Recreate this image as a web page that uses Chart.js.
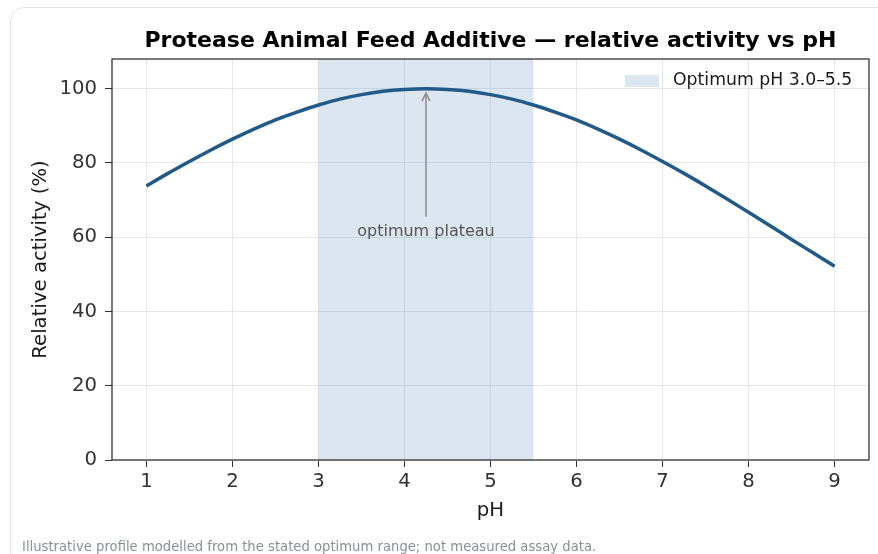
<!DOCTYPE html>
<html>
<head>
<meta charset="utf-8">
<script src="https://cdn.jsdelivr.net/npm/chart.js@4.4.1/dist/chart.umd.min.js"></script>
<style>
html, body { margin: 0; padding: 0; background: #fff; overflow: hidden; }
body { width: 878px; height: 554px; position: relative; font-family: "DejaVu Sans", sans-serif; }
.cartao { position: absolute; left: 10px; top: 7px; width: 900px; height: 566px; border: 1px solid #e1e5ea; border-radius: 14px; box-sizing: border-box; }
#grafico { position: absolute; left: 0; top: 0; }
.rodape { position: absolute; left: 22px; top: 539px; font-size: 13.2px; color: #8a8f96; white-space: nowrap; }
</style>
</head>
<body>
<div class="cartao"></div>
<canvas id="grafico" width="878" height="554"></canvas>
<div class="rodape">Illustrative profile modelled from the stated optimum range; not measured assay data.</div>
<script>
const titulo = 'Protease Animal Feed Additive \u2014 relative activity vs pH';

// pH x relative activity (%)
const ph_valores = [1, 1.25, 1.5, 1.75, 2, 2.25, 2.5, 2.75, 3, 3.25, 3.5, 3.75, 4, 4.25, 4.5, 4.75, 5,
    5.25, 5.5, 5.75, 6, 6.25, 6.5, 6.75, 7, 7.25, 7.5, 7.75, 8, 8.25, 8.5, 8.75, 9];
const atividade = [73.8, 77.2, 80.4, 83.5, 86.4, 89.1, 91.6, 93.7, 95.6, 97.2, 98.4, 99.3, 99.8, 100, 99.8, 99.3, 98.4,
    97.2, 95.6, 93.7, 91.6, 89.1, 86.4, 83.5, 80.4, 77.2, 73.8, 70.3, 66.7, 63.1, 59.4, 55.8, 52.2];

const x_ticks = [1, 2, 3, 4, 5, 6, 7, 8, 9];
const y_ticks = [0, 20, 40, 60, 80, 100];
const x_limites = [0.6, 9.4];
const y_limites = [0, 108];

const faixa_otima = [3.0, 5.5];
const faixa_rotulo = 'Optimum pH 3.0\u20135.5';

const anotacao_texto = 'optimum plateau';
const anotacao_ponta = [4.25, 98.8];
const anotacao_base = [4.25, 65.5];

const fonte = '"DejaVu Sans", sans-serif';
const cor_linha = '#1f5a8a';
const cor_faixa = 'rgba(70, 120, 175, 0.19)';

const pluginFaixa = {
    id: 'faixa',
    beforeDatasetsDraw(chart){
        const {ctx, chartArea, scales} = chart;
        const x0 = scales.x.getPixelForValue(faixa_otima[0]);
        const x1 = scales.x.getPixelForValue(faixa_otima[1]);
        ctx.save();
        ctx.fillStyle = cor_faixa;
        ctx.fillRect(x0, chartArea.top, x1 - x0, chartArea.bottom - chartArea.top);
        ctx.restore();
    },
    afterDatasetsDraw(chart){
        const {ctx, chartArea, scales} = chart;

        // seta da anotacao
        const ax = scales.x.getPixelForValue(anotacao_ponta[0]);
        const ay = scales.y.getPixelForValue(anotacao_ponta[1]);
        const by = scales.y.getPixelForValue(anotacao_base[1]);
        ctx.save();
        ctx.strokeStyle = '#888888';
        ctx.lineWidth = 1.4;
        ctx.beginPath();
        ctx.moveTo(ax, by);
        ctx.lineTo(ax, ay);
        ctx.moveTo(ax - 4, ay + 8);
        ctx.lineTo(ax, ay);
        ctx.lineTo(ax + 4, ay + 8);
        ctx.stroke();

        ctx.fillStyle = '#555555';
        ctx.font = '16px ' + fonte;
        ctx.textAlign = 'center';
        ctx.textBaseline = 'middle';
        ctx.fillText(anotacao_texto, ax, by + 15.5);

        // legenda
        const lx = chartArea.right - 244;
        const ly = chartArea.top + 16;
        ctx.fillStyle = cor_faixa;
        ctx.fillRect(lx, ly, 34, 12);
        ctx.fillStyle = '#1a1a1a';
        ctx.textAlign = 'left';
        ctx.font = '17.3px ' + fonte;
        ctx.fillText(faixa_rotulo, lx + 48, ly + 6);

        // moldura
        ctx.strokeStyle = '#333333';
        ctx.lineWidth = 1.3;
        ctx.strokeRect(chartArea.left, chartArea.top, chartArea.right - chartArea.left, chartArea.bottom - chartArea.top);
        ctx.restore();
    }
};

function montarGrafico(){
    const pontos = ph_valores.map((p, i) => ({x: p, y: atividade[i]}));

    new Chart(document.getElementById('grafico'), {
        type: 'line',
        data: {
            datasets: [{
                data: pontos,
                borderColor: cor_linha,
                borderWidth: 3.5,
                pointRadius: 0,
                cubicInterpolationMode: 'monotone',
                fill: false
            }]
        },
        options: {
            responsive: false,
            animation: false,
            layout: { padding: { left: 0, right: 9, top: 0, bottom: 0 } },
            plugins: {
                legend: { display: false },
                tooltip: { enabled: false },
                title: {
                    display: true,
                    text: titulo,
                    fullSize: false,
                    color: '#000',
                    font: { family: fonte, size: 22, weight: 'bold' },
                    padding: { top: 28, bottom: 4.6 }
                }
            },
            scales: {
                x: {
                    type: 'linear',
                    min: x_limites[0],
                    max: x_limites[1],
                    afterBuildTicks: s => { s.ticks = x_ticks.map(v => ({value: v})); },
                    afterFit: s => { s.height = 94; },
                    ticks: { color: '#333', font: { family: fonte, size: 19.7 }, padding: 3 },
                    grid: { color: '#e3e7ec', tickColor: '#333', tickLength: 7, lineWidth: 1 },
                    border: { display: false },
                    title: { display: true, text: 'pH', color: '#1a1a1a', font: { family: fonte, size: 19.7 }, padding: { top: 0, bottom: 31 } }
                },
                y: {
                    min: y_limites[0],
                    max: y_limites[1],
                    afterBuildTicks: s => { s.ticks = y_ticks.map(v => ({value: v})); },
                    afterFit: s => { s.width = 112; },
                    ticks: { color: '#333', font: { family: fonte, size: 19.7 }, padding: 8 },
                    grid: { color: '#e3e7ec', tickColor: '#333', tickLength: 7, lineWidth: 1 },
                    border: { display: false },
                    title: { display: true, text: 'Relative activity (%)', color: '#1a1a1a', font: { family: fonte, size: 19.7 }, padding: { top: 29, bottom: 0 } }
                }
            }
        },
        plugins: [pluginFaixa]
    });
}

montarGrafico();
</script>
</body>
</html>
